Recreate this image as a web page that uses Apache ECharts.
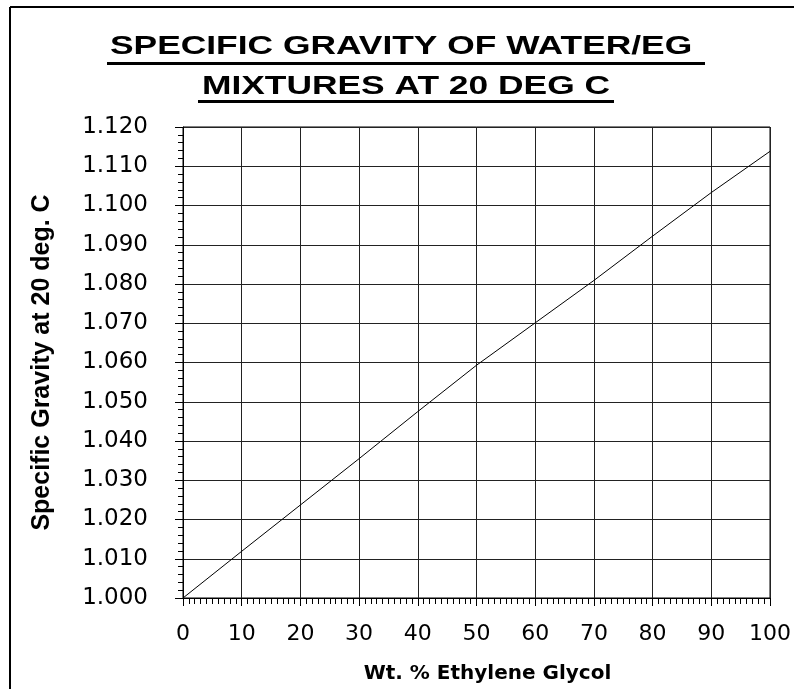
<!DOCTYPE html>
<html>
<head>
<meta charset="utf-8">
<script src="https://cdn.jsdelivr.net/npm/echarts@6/dist/echarts.min.js"></script>
<style>
html,body{margin:0;padding:0;background:#fff;}
#chart{width:794px;height:689px;}
</style>
</head>
<body>
<div id="chart"></div>
<script>
// Data
const wtPercent = [0, 10, 20, 30, 40, 50, 60, 70, 80, 90, 100];
const specificGravity = [1.000, 1.0119, 1.0237, 1.0355, 1.0475, 1.0593, 1.0701, 1.0809, 1.0922, 1.1033, 1.1138];
const titleLines = ['SPECIFIC GRAVITY OF WATER/EG ', 'MIXTURES AT 20 DEG C'];
const xAxisName = 'Wt. % Ethylene Glycol';
const yAxisName = 'Specific Gravity at 20 deg. C';
const xMin = 0, xMax = 100, xStep = 10;
const yMin = 1.000, yMax = 1.120, yStep = 0.010;

const chart = echarts.init(document.getElementById('chart'), null, {renderer: 'canvas'});

const titleFont = 'bold 26px "Liberation Sans", Arial, sans-serif';

const option = {
  animation: false,
  backgroundColor: '#ffffff',
  grid: {
    left: 183, right: 24, top: 127, bottom: 85,
    show: true, borderColor: '#000', borderWidth: 1, backgroundColor: 'transparent'
  },
  xAxis: {
    type: 'value',
    min: xMin, max: xMax, interval: xStep,
    name: xAxisName,
    nameLocation: 'middle',
    nameGap: 66,
    nameTextStyle: {
      fontFamily: 'DejaVu Sans', fontWeight: 'bold', fontSize: 20, color: '#000',
      padding: [0, 0, 0, 22]
    },
    axisLine: {show: true, onZero: false, lineStyle: {color: '#000', width: 1}},
    axisTick: {show: true, length: 8, lineStyle: {color: '#000', width: 1}},
    minorTick: {show: true, splitNumber: 10, length: 6, lineStyle: {color: '#000', width: 1}},
    splitLine: {show: true, lineStyle: {color: '#222', width: 1}},
    axisLabel: {
      margin: 25, fontFamily: 'DejaVu Sans', fontSize: 22, color: '#000'
    }
  },
  yAxis: {
    type: 'value',
    min: yMin, max: yMax, interval: yStep,
    name: yAxisName,
    nameLocation: 'middle',
    nameGap: 128,
    nameRotate: 90,
    nameTextStyle: {
      fontFamily: '"Liberation Sans", Arial, sans-serif', fontWeight: 'bold', fontSize: 25, color: '#000'
    },
    axisLine: {show: true, onZero: false, lineStyle: {color: '#000', width: 1}},
    axisTick: {show: true, length: 8, lineStyle: {color: '#000', width: 1}},
    minorTick: {show: true, splitNumber: 5, length: 5, lineStyle: {color: '#000', width: 1}},
    splitLine: {show: true, lineStyle: {color: '#222', width: 1}},
    axisLabel: {
      margin: 35, fontFamily: 'DejaVu Sans', fontSize: 23, color: '#000',
      formatter: v => v.toFixed(3)
    }
  },
  series: [{
    type: 'line',
    data: wtPercent.map((x, i) => [x, specificGravity[i]]),
    showSymbol: false,
    symbol: 'none',
    lineStyle: {color: '#000', width: 1},
    smooth: false
  }],
  graphic: [
    // outer frame (left and top edges visible)
    {type: 'line', shape: {x1: 10, y1: 7, x2: 10, y2: 689}, style: {stroke: '#000', lineWidth: 2}, z: 10},
    {type: 'line', shape: {x1: 10, y1: 7, x2: 794, y2: 7}, style: {stroke: '#000', lineWidth: 2}, z: 10},
    // title
    {type: 'text', x: 406, y: 47, scaleX: 1.36, originX: 0, originY: 0,
      style: {text: titleLines[0], font: titleFont, fill: '#000', textAlign: 'center', textVerticalAlign: 'middle'}, z: 10},
    {type: 'text', x: 406, y: 87, scaleX: 1.36, originX: 0, originY: 0,
      style: {text: titleLines[1], font: titleFont, fill: '#000', textAlign: 'center', textVerticalAlign: 'middle'}, z: 10},
    // title underlines
    {type: 'line', shape: {x1: 107, y1: 63.5, x2: 705, y2: 63.5}, style: {stroke: '#000', lineWidth: 3}, z: 10},
    {type: 'line', shape: {x1: 198, y1: 101.5, x2: 614, y2: 101.5}, style: {stroke: '#000', lineWidth: 3}, z: 10}
  ]
};

chart.setOption(option);
</script>
</body>
</html>
